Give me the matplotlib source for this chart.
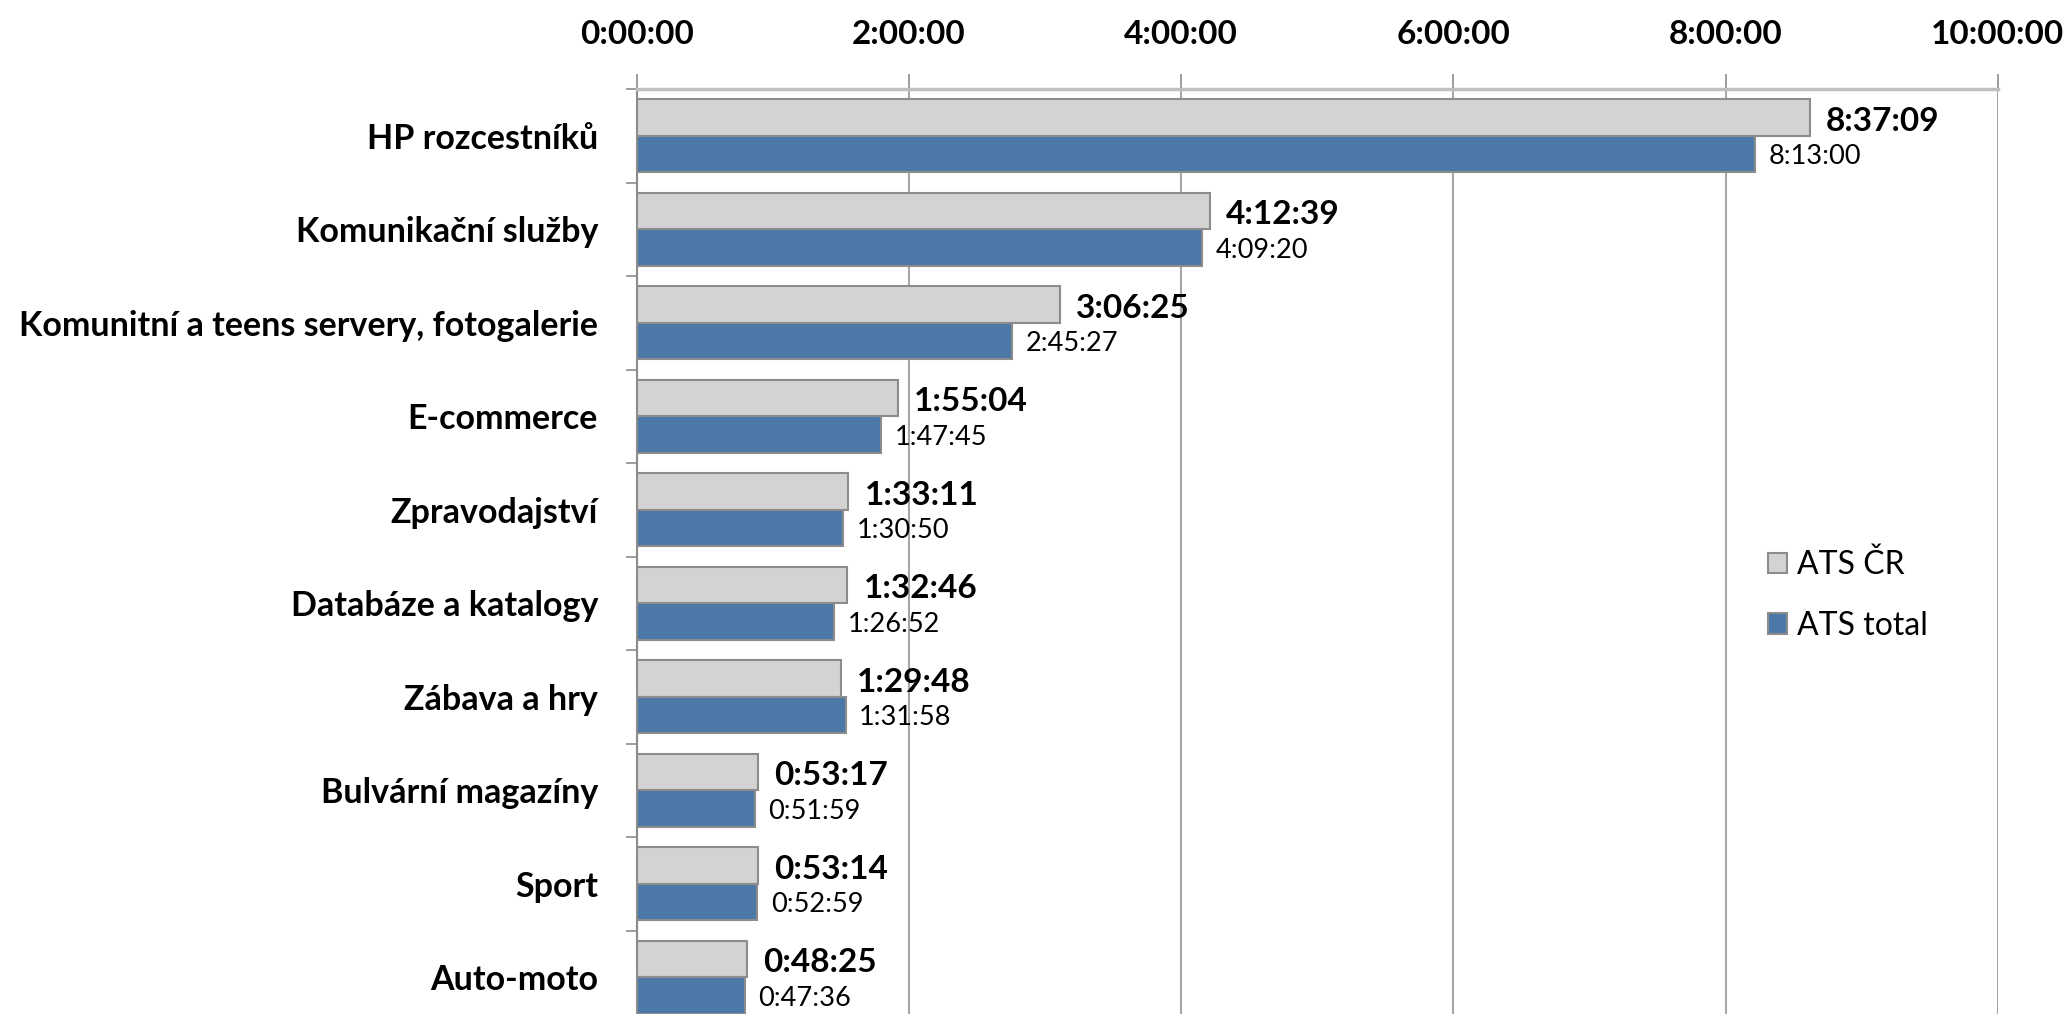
import matplotlib.pyplot as plt
import numpy as np

plt.rcParams['font.family'] = ['Lato', 'DejaVu Sans']

categories = ["HP rozcestníků", "Komunikační služby", "Komunitní a teens servery, fotogalerie",
              "E-commerce", "Zpravodajství", "Databáze a katalogy", "Zábava a hry",
              "Bulvární magazíny", "Sport", "Auto-moto"]
ats_cr = ["8:37:09", "4:12:39", "3:06:25", "1:55:04", "1:33:11",
          "1:32:46", "1:29:48", "0:53:17", "0:53:14", "0:48:25"]
ats_total = ["8:13:00", "4:09:20", "2:45:27", "1:47:45", "1:30:50",
             "1:26:52", "1:31:58", "0:51:59", "0:52:59", "0:47:36"]
x_ticks = [0, 2, 4, 6, 8, 10]
x_ticklabels = ["0:00:00", "2:00:00", "4:00:00", "6:00:00", "8:00:00", "10:00:00"]


def to_hours(s):
    h, m, sec = [int(p) for p in s.split(":")]
    return h + m / 60 + sec / 3600


cr = np.array([to_hours(s) for s in ats_cr])
tot = np.array([to_hours(s) for s in ats_total])
y = np.arange(len(categories))
h = 0.39

fig = plt.figure(figsize=(20.68, 10.14), dpi=100)
ax = fig.add_axes([0.308, -0.0099, 0.658, 0.922])

ax.barh(y - h / 2, cr, height=h, color="#D3D3D3", edgecolor="#8C8C8C", linewidth=1.5, zorder=3)
ax.barh(y + h / 2, tot, height=h, color="#4C78A8", edgecolor="#8C8C8C", linewidth=1.5, zorder=3)

for i in range(len(categories)):
    ax.text(cr[i] + 0.12, y[i] - h / 2 + 0.04, ats_cr[i], fontsize=24, fontweight="bold",
            va="center", ha="left")
    ax.text(tot[i] + 0.1, y[i] + h / 2 + 0.03, ats_total[i], fontsize=19.5,
            va="center", ha="left")

ax.set_xlim(0, 10)
ax.set_ylim(len(categories) - 0.5, -0.5)
ax.xaxis.tick_top()
ax.set_xticks(x_ticks)
ax.set_xticklabels(x_ticklabels, fontsize=24, fontweight="bold")
ax.tick_params(axis="x", length=11, width=1.2, color="#8C8C8C", pad=18)
ax.grid(axis="x", color="#A6A6A6", linewidth=1.5, zorder=0)

ax.set_yticks(np.arange(-0.5, len(categories), 1))
ax.set_yticklabels([])
ax.tick_params(axis="y", which="major", length=8, width=1.2, color="#8C8C8C")
ax.set_yticks(y, minor=True)
ax.set_yticklabels(categories, minor=True, fontsize=24.5, fontweight="bold")
ax.tick_params(axis="y", which="minor", length=0, pad=28)

for side in ["right", "bottom"]:
    ax.spines[side].set_visible(False)
ax.spines["left"].set_color("#8C8C8C")
ax.spines["left"].set_linewidth(1.5)
ax.spines["top"].set_color("#BFBFBF")
ax.spines["top"].set_linewidth(2.5)

handles = [plt.Rectangle((0, 0), 1, 1, facecolor="#D3D3D3", edgecolor="#8C8C8C", linewidth=1.5),
           plt.Rectangle((0, 0), 1, 1, facecolor="#4C78A8", edgecolor="#8C8C8C", linewidth=1.5)]
fig.legend(handles, ["ATS ČR", "ATS total"], loc="center left", bbox_to_anchor=(0.841, 0.413),
           frameon=False, fontsize=23, handlelength=0.6, handleheight=0.6,
           handletextpad=0.3, labelspacing=0.95)

plt.savefig("out.png")
